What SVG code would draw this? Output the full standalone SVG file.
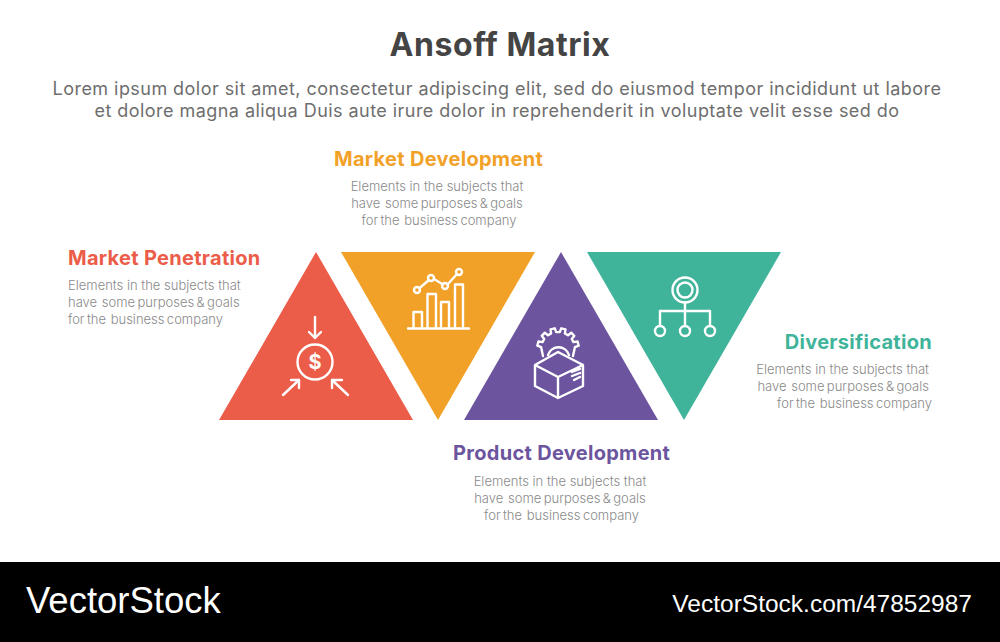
<svg xmlns="http://www.w3.org/2000/svg" width="1000" height="642" viewBox="0 0 1000 642">
<style>
text{font-family:Inter,"Open Sans",sans-serif;white-space:pre}
.h{font-size:20px;font-weight:700;letter-spacing:.3px}
.b{font-size:13px;fill:#8a8a8a;font-weight:300}
.d{word-spacing:-1.300px}
.l{font-size:18px;fill:#6e6e6e;font-weight:400;letter-spacing:.45px}
.i{fill:none;stroke:#fff;stroke-width:2.400;stroke-linecap:round;stroke-linejoin:round}
.w{font-family:"Liberation Sans",Arial,sans-serif;fill:#fff}
</style>
<rect width="1000" height="642" fill="#fff"/>
<text x="500" y="56" text-anchor="middle" font-size="32" font-weight="700" fill="#444" letter-spacing=".55">Ansoff Matrix</text>
<text class="l" x="497" y="95" text-anchor="middle">Lorem ipsum dolor sit amet, consectetur adipiscing elit, sed do eiusmod tempor incididunt ut labore</text>
<text class="l" x="497" y="117" text-anchor="middle">et dolore magna aliqua Duis aute irure dolor in reprehenderit in voluptate velit esse sed do</text>
<g id="market-penetration">
<polygon points="316,252 413,420 219,420" fill="#eb5c49"/>
<text class="h" x="68" y="265" fill="#eb5c49">Market Penetration</text>
<text class="b" x="68" y="290">Elements in the subjects that</text>
<text class="b d" x="68" y="307">have  some purposes &amp; goals</text>
<text class="b d" x="68" y="324">for the  business company</text>
<g class="i"><circle cx="315" cy="362" r="17.500"/><path d="M315 317V338M309 332L315 338L321 332M283 395L299 380M291 380H299V388M348 395L332 380M342 380H332V388"/></g>
<text x="315" y="369" text-anchor="middle" font-size="20" font-weight="700" fill="#fff">$</text>
</g>
<g id="market-development">
<polygon points="341,252 535,252 438,420" fill="#f2a128"/>
<text class="h" x="334" y="166" fill="#f2a128">Market Development</text>
<text class="b" x="437" y="191" text-anchor="middle">Elements in the subjects that</text>
<text class="b d" x="437" y="208" text-anchor="middle">have  some purposes &amp; goals</text>
<text class="b d" x="439" y="225" text-anchor="middle">for the  business company</text>
<g class="i"><path d="M408 328.500H469M413.500 328V312H422V328M427.500 328V294H436V328M441 328V302H449V328M455 328V284.500H463V328M419 288.500L429 280M434 279L443 284.500M447.500 284.500L457 274"/><circle cx="417" cy="290" r="3"/><circle cx="431" cy="278" r="3"/><circle cx="445" cy="286" r="3"/><circle cx="459" cy="272" r="3"/></g>
</g>
<g id="product-development">
<polygon points="561,252 658,420 464,420" fill="#6c559e"/>
<text class="h" x="453" y="460" fill="#6c559e">Product Development</text>
<text class="b" x="560" y="486" text-anchor="middle">Elements in the subjects that</text>
<text class="b d" x="560" y="503" text-anchor="middle">have  some purposes &amp; goals</text>
<text class="b d" x="561.500" y="520" text-anchor="middle">for the  business company</text>
<g class="i"><path d="M558 352L535 365V386L558 398L583 386V365ZM535 365L558 377L583 365M558 377V398M572 372L580 369M572 376L580 373M574 380L580 377"/><path d="M548 355A11 11 0 0 1 569 355M543 356L541.100 347.200L537.300 345.700L538.400 341.500L542.500 342.100L544.200 339L541.700 335.800L544.800 332.700L548 335.200L551.100 333.500L550.500 329.400L554.700 328.300L556.200 332.100L559.800 332.100L561.300 328.300L565.500 329.400L564.900 333.500L568 335.200L571.200 332.700L574.300 335.800L571.800 339L573.500 342.100L577.600 341.500L578.700 345.700L574.900 347.200L573 356"/></g>
</g>
<g id="diversification">
<polygon points="587,252 781,252 684,420" fill="#40b49a"/>
<text class="h" x="932" y="349" text-anchor="end" fill="#40b49a">Diversification</text>
<text class="b" x="929" y="374" text-anchor="end">Elements in the subjects that</text>
<text class="b d" x="929" y="391" text-anchor="end">have  some purposes &amp; goals</text>
<text class="b d" x="932" y="408" text-anchor="end">for the  business company</text>
<g class="i"><circle cx="685" cy="290" r="12.500"/><circle cx="685" cy="290" r="7.500"/><path d="M685 302.500V326M660 326V311H710V326"/><circle cx="660" cy="331" r="5"/><circle cx="685" cy="331" r="5"/><circle cx="710" cy="331" r="5"/></g>
</g>
<g id="watermark">
<rect y="562" width="1000" height="80" fill="#000"/>
<text class="w" x="26" y="613" font-size="36.500">VectorStock</text>
<text class="w" x="972" y="612" font-size="24.500" text-anchor="end">VectorStock.com/47852987</text>
</g>
<g id="connectors"></g>
</svg>
